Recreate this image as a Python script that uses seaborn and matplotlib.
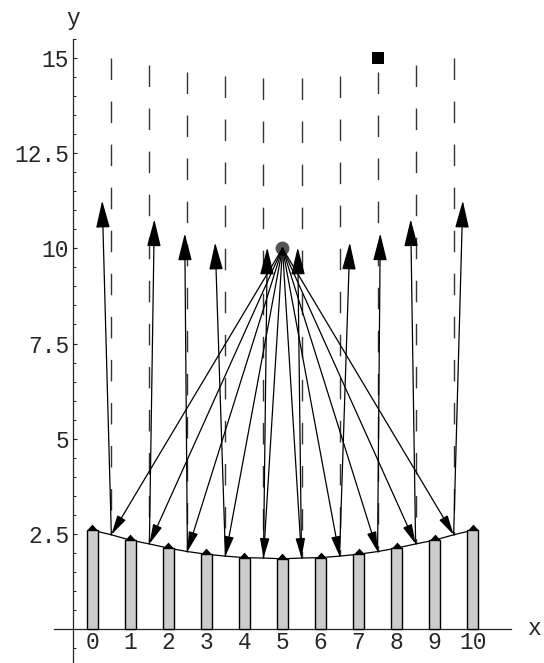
import matplotlib
matplotlib.use("Agg")
import matplotlib.pyplot as plt
import seaborn as sns
import numpy as np
import pandas as pd
from matplotlib.patches import FancyArrowPatch, ArrowStyle

# ---------------- data ----------------
bar_x = [0, 1, 2, 3, 4, 5, 6, 7, 8, 9, 10]
bar_h = [2.60, 2.34, 2.13, 1.97, 1.88, 1.85, 1.88, 1.97, 2.13, 2.34, 2.60]

hit_x = [0.5, 1.5, 2.5, 3.5, 4.5, 5.5, 6.5, 7.5, 8.5, 9.5]
hit_y = [2.48, 2.24, 2.04, 1.92, 1.87, 1.87, 1.92, 2.04, 2.24, 2.48]

refl_tip_x = [0.26, 1.63, 2.43, 3.23, 4.60, 5.40, 6.77, 7.57, 8.37, 9.74]
refl_tip_y = [11.25, 10.76, 10.39, 10.15, 10.02, 10.02, 10.15, 10.39, 10.76, 11.25]

guide_top = [14.99, 14.81, 14.62, 14.52, 14.46, 14.46, 14.52, 14.62, 14.81, 14.99]

source_x = [5.0]
source_y = [10.0]
target_x = [7.5]
target_y = [15.0]

x_tick_labels = ["0", "1", "2", "3", "4", "5", "6", "7", "8", "9", "10"]
y_ticks = [2.5, 5, 7.5, 10, 12.5, 15]
y_tick_labels = ["2.5", "5", "7.5", "10", "12.5", "15"]

# ---------------- style ----------------
sns.set_theme(style="white")
plt.rcParams["font.family"] = ["Liberation Mono", "DejaVu Sans"]
plt.rcParams["lines.scale_dashes"] = False
FS = 16.5

fig = plt.figure(figsize=(5.44, 6.63), dpi=100)
ax = fig.add_axes([0.0998, 0.0, 0.839, 0.9416])

# mirror curve (through bar tops and hit points)
mirror = sorted(zip(bar_x + hit_x, bar_h + hit_y))
mdf = pd.DataFrame(mirror, columns=["x", "y"])
sns.lineplot(data=mdf, x="x", y="y", ax=ax, color="black", lw=0.9,
             sort=False, estimator=None, zorder=2)

# bars
sns.barplot(x=bar_x, y=bar_h, native_scale=True, width=0.28, ax=ax,
            color="#cccccc", saturation=1, edgecolor="black", linewidth=1.0,
            zorder=3)

# little triangles atop bars
tri = [(-1, 0), (1, 0), (0, 1.1)]
ax.scatter(bar_x, bar_h, marker=tri, s=8.5**2, color="black",
           linewidths=0, zorder=4)

# dashed guide lines (drawn top-down)
for x, yt, yb in zip(hit_x, guide_top, hit_y):
    ax.plot([x, x], [yt, yb], color="#333333", lw=1.0,
            ls=(0, (15.5, 15.5)), zorder=1.5)

# source point
sns.scatterplot(x=source_x, y=source_y, ax=ax, s=100, color="#555555",
                linewidth=0, zorder=4)

# incoming rays
for hx, hy in zip(hit_x, hit_y):
    ax.add_patch(FancyArrowPatch(
        (source_x[0], source_y[0]), (hx, hy),
        arrowstyle=ArrowStyle("-|>", head_length=12, head_width=2.9),
        mutation_scale=1, lw=0.9, color="black",
        shrinkA=0, shrinkB=0, zorder=5))

# reflected rays
for hx, hy, tx, ty in zip(hit_x, hit_y, refl_tip_x, refl_tip_y):
    ax.add_patch(FancyArrowPatch(
        (hx, hy), (tx, ty),
        arrowstyle=ArrowStyle("-|>", head_length=17, head_width=4.3),
        mutation_scale=1, lw=0.9, color="black",
        shrinkA=0, shrinkB=0, zorder=5))

# target square
sns.scatterplot(x=target_x, y=target_y, ax=ax, marker="s", s=83,
                color="black", linewidth=0, zorder=5)

# ---------------- axes ----------------
ax.set_xlim(-1.0, 11.0)
ax.set_ylim(-0.885, 15.5)
ax.set_xlabel("")
ax.set_ylabel("")

for s in ["top", "right"]:
    ax.spines[s].set_visible(False)
ax.spines["left"].set_position(("data", -0.5))
ax.spines["bottom"].set_position(("data", 0.0))
for s in ["left", "bottom"]:
    ax.spines[s].set_color("#222222")
    ax.spines[s].set_linewidth(0.9)

ax.set_xticks(bar_x)
ax.set_xticklabels(x_tick_labels, fontsize=FS)
ax.set_yticks(y_ticks)
ax.set_yticklabels(y_tick_labels, fontsize=FS)
minor = [m / 2 for m in range(-1, 32) if m % 5 != 0]
ax.set_yticks(minor, minor=True)

ax.tick_params(axis="y", which="major", direction="in", left=True,
               length=3.2, width=0.8, pad=3, color="#222222")
ax.tick_params(axis="y", which="minor", direction="in", left=True,
               length=2.2, width=0.7, color="#222222")
ax.tick_params(axis="x", which="major", direction="in", bottom=True,
               length=3, width=0.8, pad=1.5, color="#222222")
ax.set_axisbelow(True)

ax.annotate("y", xy=(-0.5, 1.0), xycoords=("data", "axes fraction"),
            xytext=(0, 10), textcoords="offset points",
            ha="center", va="baseline", fontsize=FS, annotation_clip=False)
ax.annotate("x", xy=(1.0, 0.0), xycoords=("axes fraction", "data"),
            xytext=(12.5, -4.1), textcoords="offset points",
            ha="left", va="baseline", fontsize=FS, annotation_clip=False)

fig.savefig("out.png", dpi=100)
